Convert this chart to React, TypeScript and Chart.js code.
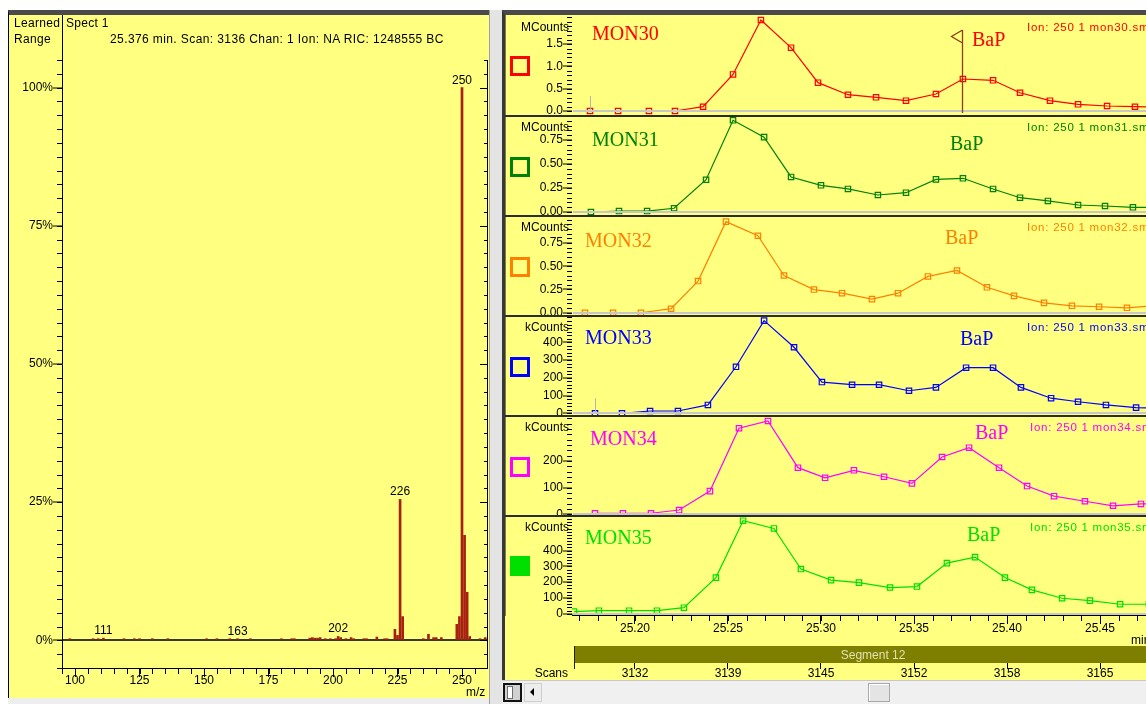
import React, { useEffect, useRef } from 'react';
import { Chart, registerables } from 'chart.js';

Chart.register(...registerables);

const SANS = "'Liberation Sans', Arial, Helvetica, sans-serif";
const SERIF = "'Liberation Serif', 'Times New Roman', serif";
Chart.defaults.font.family = SANS;
Chart.defaults.font.size = 12;
Chart.defaults.color = '#000';

// ---------------- Mass spectrum (left) ----------------
const specMz = [98, 107, 109, 111, 119, 123, 125, 130, 136, 151, 155, 160, 163, 168, 180, 184, 185, 191, 192, 193, 194, 195, 197, 199, 201, 202, 203, 205, 207, 208, 212, 213, 217, 220, 221, 224, 225, 226, 227, 235, 237, 239, 240, 242, 248, 249, 250, 251, 252, 253, 257, 259];
const specPct = [0.3, 0.3, 0.3, 0.4, 0.3, 0.3, 0.3, 0.3, 0.3, 0.3, 0.3, 0.3, 0.3, 0.3, 0.3, 0.3, 0.3, 0.4, 0.5, 0.4, 0.4, 0.5, 0.3, 0.3, 0.3, 0.7, 0.5, 0.3, 0.5, 0.3, 0.3, 0.3, 0.6, 0.3, 0.3, 2.0, 0.9, 25.5, 4.3, 0.3, 1.1, 0.5, 0.5, 0.5, 2.9, 4.3, 100, 19.0, 8.7, 0.7, 0.3, 0.5];
const specLabeled = [111, 163, 202, 226, 250];
const specXTicks = [100, 125, 150, 175, 200, 225, 250];
const specYTicks = [0, 25, 50, 75, 100];

// ---------------- Chromatograms (right) ----------------
const timeTicks = [25.2, 25.25, 25.3, 25.35, 25.4, 25.45];
const scanLabels = ['3132', '3139', '3145', '3152', '3158', '3165'];
const spectrumTime = 25.376;
const segmentLabel = 'Segment 12';
const segmentLabelTime = 25.328;

const mon30Time = [25.1758, 25.1909, 25.2075, 25.2215, 25.2366, 25.2527, 25.2677, 25.2839, 25.2984, 25.3145, 25.3296, 25.3457, 25.3618, 25.3763, 25.3925, 25.407, 25.4231, 25.4382, 25.4538, 25.4688, 25.4844];
const mon30Val = [0, 0, 0, 0, 0.096, 0.82, 2.04, 1.42, 0.635, 0.365, 0.307, 0.231, 0.381, 0.717, 0.688, 0.41, 0.231, 0.15, 0.112, 0.096, 0.09];

const mon31Time = [25.1763, 25.1914, 25.2065, 25.221, 25.2382, 25.2527, 25.2694, 25.2839, 25.3, 25.3145, 25.3306, 25.3457, 25.3618, 25.3763, 25.3925, 25.407, 25.422, 25.4382, 25.4527, 25.4677, 25.4833];
const mon31Val = [0, 0.01, 0.01, 0.039, 0.336, 0.955, 0.78, 0.365, 0.278, 0.24, 0.177, 0.201, 0.34, 0.351, 0.24, 0.149, 0.115, 0.073, 0.0625, 0.049, 0.047];

const mon32Time = [25.1731, 25.1882, 25.2032, 25.2194, 25.2339, 25.2489, 25.2661, 25.2801, 25.2962, 25.3113, 25.3274, 25.3414, 25.3575, 25.3731, 25.3892, 25.4038, 25.4199, 25.4349, 25.4495, 25.4645, 25.4801];
const mon32Val = [0, 0, 0, 0.043, 0.34, 0.979, 0.827, 0.4, 0.249, 0.21, 0.146, 0.21, 0.39, 0.454, 0.273, 0.181, 0.106, 0.074, 0.064, 0.053, 0.075];

const mon33Time = [25.1785, 25.193, 25.2081, 25.2231, 25.2392, 25.2543, 25.2694, 25.2855, 25.3005, 25.3167, 25.3312, 25.3473, 25.3618, 25.378, 25.3925, 25.4075, 25.4237, 25.4382, 25.4532, 25.4694, 25.4849];
const mon33Val = [0, 0, 13, 13, 47, 262, 522, 372, 176, 161, 161, 127, 146, 257, 257, 146, 85, 65, 47, 32, 28];

const mon34Time = [25.1785, 25.1935, 25.2086, 25.2237, 25.2403, 25.2559, 25.2715, 25.2876, 25.3022, 25.3177, 25.3339, 25.3489, 25.3651, 25.3796, 25.3957, 25.4108, 25.4253, 25.4419, 25.457, 25.472, 25.4876];
const mon34Val = [4, 4, 4, 16, 87, 323, 350, 175, 137, 165, 141, 116, 215, 250, 175, 106, 68, 49, 32, 39, 41];

const mon35Time = [25.1672, 25.1806, 25.1968, 25.2118, 25.2263, 25.2435, 25.2581, 25.2747, 25.2892, 25.3054, 25.3204, 25.3371, 25.3516, 25.3677, 25.3828, 25.3989, 25.4134, 25.4296, 25.4446, 25.4608, 25.4763];
const mon35Val = [13, 19, 19, 19, 38, 229, 590, 541, 283, 213, 197, 166, 172, 321, 359, 229, 151, 98, 83, 60, 60];

const mon30Ticks = [0, 0.5, 1.0, 1.5];
const mon31Ticks = [0, 0.25, 0.5, 0.75];
const mon32Ticks = [0, 0.25, 0.5, 0.75];
const mon33Ticks = [0, 100, 200, 300, 400];
const mon34Ticks = [0, 100, 200];
const mon35Ticks = [0, 100, 200, 300, 400];

// ---------------- layout / style config ----------------
const T_MIN = 25.16613;
const T_MAX = 25.47473;
const YELLOW = '#FFFF80';

const panels: any[] = [
  { name: 'MON30', time: mon30Time, val: mon30Val, color: '#FF0000', unit: 'MCounts', min: -0.0897, max: 2.1525, yTicks: mon30Ticks, dec: 1, minor: 0.1, top: 15, bottom: 115, lab: [592, 33], bap: [972, 38.5], ion: [1027, 26.7], unitY: 26.7, sq: 56, flag: true, start: true },
  { name: 'MON31', time: mon31Time, val: mon31Val, color: '#008000', unit: 'MCounts', min: -0.03125, max: 0.9896, yTicks: mon31Ticks, dec: 2, minor: 0.05, top: 117, bottom: 215, lab: [592, 138.5], bap: [950, 143], ion: [1027, 127.3], unitY: 126.7, sq: 157 },
  { name: 'MON32', time: mon32Time, val: mon32Val, color: '#FF8000', unit: 'MCounts', min: -0.0245, max: 1.0287, yTicks: mon32Ticks, dec: 2, minor: 0.05, top: 217, bottom: 315, lab: [585, 239.5], bap: [945, 237], ion: [1027, 227.3], unitY: 226.7, sq: 257 },
  { name: 'MON33', time: mon33Time, val: mon33Val, color: '#0000FF', unit: 'kCounts', min: -9.6, max: 542.5, yTicks: mon33Ticks, dec: 0, minor: 20, top: 317, bottom: 415, lab: [585, 337], bap: [960, 338], ion: [1027, 327.3], unitY: 327.3, sq: 357, start: true },
  { name: 'MON34', time: mon34Time, val: mon34Val, color: '#FF00FF', unit: 'kCounts', min: -2.6, max: 365.1, yTicks: mon34Ticks, dec: 0, minor: 20, top: 417, bottom: 515, lab: [590, 438], bap: [975, 432], ion: [1030, 426.7], unitY: 427.3, sq: 457 },
  { name: 'MON35', time: mon35Time, val: mon35Val, color: '#00E000', unit: 'kCounts', min: -8.3, max: 613.4, yTicks: mon35Ticks, dec: 0, minor: 20, top: 517, bottom: 680, lab: [585, 537], bap: [967, 534], ion: [1030, 527.3], unitY: 527.3, sq: 556, axis: true, filled: true },
];

// ---------------- plugins ----------------
function tickMarks(id: string, scaleId: string, edge: string, step: number, len: number, majorStep = 0, majorLen = 0, line = false) {
  return {
    id,
    afterDraw(chart: any) {
      const s = chart.scales[scaleId];
      const a = chart.chartArea;
      const ctx = chart.ctx;
      ctx.save();
      ctx.strokeStyle = '#000';
      ctx.lineWidth = 1;
      ctx.beginPath();
      if (line && edge === 'right') {
        ctx.moveTo(a.right + 0.5, a.top);
        ctx.lineTo(a.right + 0.5, a.bottom);
      }
      const i0 = Math.ceil(s.min / step - 1e-6);
      const i1 = Math.floor(s.max / step + 1e-6);
      for (let i = i0; i <= i1; i++) {
        const v = i * step;
        const isMajor = majorStep > 0 && Math.abs(v / majorStep - Math.round(v / majorStep)) < 1e-6;
        const L = isMajor ? majorLen : len;
        const p = Math.round(s.getPixelForValue(v)) + 0.5;
        if (edge === 'left') {
          ctx.moveTo(a.left, p);
          ctx.lineTo(a.left - L, p);
        } else if (edge === 'right') {
          ctx.moveTo(a.right, p);
          ctx.lineTo(a.right - L, p);
        } else {
          ctx.moveTo(p, a.bottom + 1);
          ctx.lineTo(p, a.bottom + 1 + L);
        }
      }
      ctx.stroke();
      ctx.restore();
    },
  };
}

const peakLabels = {
  id: 'peakLabels',
  afterDatasetsDraw(chart: any) {
    const xs = chart.scales.x;
    const ys = chart.scales.y;
    const ctx = chart.ctx;
    ctx.save();
    ctx.font = `12px ${SANS}`;
    ctx.fillStyle = '#000';
    ctx.textAlign = 'center';
    ctx.textBaseline = 'alphabetic';
    specLabeled.forEach((m) => {
      const i = specMz.indexOf(m);
      ctx.fillText(String(m), xs.getPixelForValue(m), ys.getPixelForValue(specPct[i]) - 4);
    });
    ctx.restore();
  },
};

function SpectrumChart() {
  const ref = useRef<HTMLCanvasElement>(null);
  useEffect(() => {
    const chart = new Chart(ref.current as HTMLCanvasElement, {
      type: 'bar',
      data: {
        datasets: [
          {
            data: specMz.map((m, i) => ({ x: m, y: specPct[i] })),
            backgroundColor: '#A82010',
            borderWidth: 0,
            barThickness: 2,
          } as any,
        ],
      },
      options: {
        animation: false,
        responsive: false,
        devicePixelRatio: 1,
        events: [],
        layout: { autoPadding: false, padding: { top: 45, right: 2, left: 0, bottom: 0 } },
        plugins: { legend: { display: false }, tooltip: { enabled: false } },
        scales: {
          x: {
            type: 'linear',
            min: 94.96,
            max: 259.69,
            offset: false,
            afterBuildTicks: (s: any) => { s.ticks = specXTicks.map((v) => ({ value: v })); },
            afterFit: (s: any) => { s.height = 30; s.paddingLeft = 0; s.paddingRight = 0; },
            grid: { drawOnChartArea: false, offset: false, tickLength: 9, tickColor: '#000' },
            border: { color: '#000', width: 1 },
            ticks: { padding: -4, maxRotation: 0, autoSkip: false, color: '#000', callback: (v: any) => String(v) },
          },
          y: {
            type: 'linear',
            min: -5,
            max: 105,
            afterBuildTicks: (s: any) => { s.ticks = specYTicks.map((v) => ({ value: v })); },
            afterFit: (s: any) => { s.width = 53; s.paddingTop = 0; s.paddingBottom = 0; },
            grid: {
              drawOnChartArea: true,
              lineWidth: 2,
              tickWidth: 1,
              tickLength: 9,
              tickColor: '#000',
              color: (c: any) => (c.tick && c.tick.value === 0 ? '#383838' : 'rgba(0,0,0,0)'),
            },
            border: { color: '#000', width: 1 },
            ticks: { padding: 0, color: '#000', callback: (v: any) => v + '%' },
          },
        } as any,
      },
      plugins: [
        tickMarks('specYMinor', 'y', 'left', 2.5, 5),
        tickMarks('specXMinor', 'x', 'bottom', 5, 5),
        tickMarks('specRight', 'y', 'right', 2.5, 3, 25, 7, true),
        peakLabels,
      ],
    } as any);
    return () => chart.destroy();
  }, []);
  return <canvas ref={ref} width={480} height={683} style={{ position: 'absolute', left: 9, top: 15 }} />;
}

function PanelChart({ p }: { p: any }) {
  const ref = useRef<HTMLCanvasElement>(null);
  useEffect(() => {
    const scales: any = {
      x: {
        type: 'linear',
        min: T_MIN,
        max: T_MAX,
        display: !!p.axis,
        afterBuildTicks: (s: any) => { s.ticks = timeTicks.map((v) => ({ value: v })); },
        afterFit: (s: any) => {
          s.height = p.axis ? 48 : 0;
          s.paddingLeft = 0;
          s.paddingRight = 0;
        },
        grid: { drawOnChartArea: false, tickLength: 9, tickColor: '#000', color: '#000' },
        border: { color: '#000', width: 1 },
        ticks: { padding: -3, maxRotation: 0, autoSkip: false, color: '#000', callback: (v: any) => Number(v).toFixed(2) },
      },
      y: {
        type: 'linear',
        min: p.min,
        max: p.max,
        afterBuildTicks: (s: any) => { s.ticks = p.yTicks.map((v: number) => ({ value: v })); },
        afterFit: (s: any) => { s.width = 67; s.paddingTop = 0; s.paddingBottom = 0; },
        grid: {
          z: 1,
          drawOnChartArea: true,
          lineWidth: 2,
          tickWidth: 1,
          tickLength: 9,
          tickColor: '#000',
          color: (c: any) => (c.tick && c.tick.value === 0 ? '#C8C8C8' : 'rgba(0,0,0,0)'),
        },
        border: { color: '#000', width: 1 },
        ticks: { padding: 0, color: '#000', callback: (v: any) => Number(v).toFixed(p.dec) },
      },
    };
    const plugins: any[] = [tickMarks('yMinor' + p.name, 'y', 'left', p.minor, 5)];
    if (p.axis) {
      scales.scans = {
        type: 'linear',
        position: 'bottom',
        weight: 1,
        min: T_MIN,
        max: T_MAX,
        afterBuildTicks: (s: any) => { s.ticks = timeTicks.map((v) => ({ value: v })); },
        afterFit: (s: any) => { s.height = 17; s.paddingLeft = 0; s.paddingRight = 0; },
        grid: { drawOnChartArea: false, tickLength: 6, tickColor: '#000', color: '#000' },
        border: { display: false },
        ticks: { padding: -3, maxRotation: 0, autoSkip: false, color: '#000', callback: (_v: any, i: number) => scanLabels[i] },
      };
      plugins.push(tickMarks('xMinor' + p.name, 'x', 'bottom', 0.01, 5));
      plugins.push({
        id: 'segment',
        afterDraw(chart: any) {
          const xs = chart.scales.x;
          const sc = chart.scales.scans;
          const ctx = chart.ctx;
          const y1 = sc.top;
          const y0 = y1 - 17;
          const x0 = xs.left + 2;
          const x1 = xs.right;
          ctx.save();
          ctx.fillStyle = '#7E7E00';
          ctx.fillRect(x0, y0, x1 - x0, y1 - y0);
          ctx.fillStyle = '#202000';
          ctx.fillRect(x0, y0, 1, y1 - y0 + 6);
          ctx.font = `12px ${SANS}`;
          ctx.fillStyle = '#E2E2AE';
          ctx.textAlign = 'center';
          ctx.textBaseline = 'middle';
          ctx.fillText(segmentLabel, xs.getPixelForValue(segmentLabelTime), (y0 + y1) / 2 + 1);
          ctx.restore();
        },
      });
    }
    if (p.start) {
      plugins.push({
        id: 'startMark',
        afterDatasetsDraw(chart: any) {
          const ctx = chart.ctx;
          const x = Math.round(chart.scales.x.getPixelForValue(p.time[0])) + 0.5;
          const y0 = chart.scales.y.getPixelForValue(0);
          ctx.save();
          ctx.strokeStyle = '#B4B4B4';
          ctx.lineWidth = 1;
          ctx.beginPath();
          ctx.moveTo(x, y0);
          ctx.lineTo(x, y0 - 15);
          ctx.stroke();
          ctx.restore();
        },
      });
    }
    if (p.flag) {
      plugins.push({
        id: 'flag',
        afterDraw(chart: any) {
          const ctx = chart.ctx;
          const a = chart.chartArea;
          const x = Math.round(chart.scales.x.getPixelForValue(spectrumTime)) + 0.5;
          ctx.save();
          ctx.strokeStyle = '#8E3C1A';
          ctx.lineWidth = 1.3;
          ctx.beginPath();
          ctx.moveTo(x, a.top + 15);
          ctx.lineTo(x, a.bottom - 2);
          ctx.moveTo(x, a.top + 15);
          ctx.lineTo(x - 11, a.top + 21.5);
          ctx.lineTo(x, a.top + 28);
          ctx.stroke();
          ctx.restore();
        },
      });
    }
    const chart = new Chart(ref.current as HTMLCanvasElement, {
      type: 'line',
      data: {
        datasets: [
          {
            data: p.time.map((t: number, i: number) => ({ x: t, y: p.val[i] })),
            borderColor: p.color,
            borderWidth: 1.2,
            pointStyle: 'rect',
            pointRadius: 3.8,
            pointBorderColor: p.color,
            pointBackgroundColor: 'rgba(0,0,0,0)',
            pointBorderWidth: 1.2,
            tension: 0,
            fill: false,
          },
        ],
      },
      options: {
        animation: false,
        responsive: false,
        devicePixelRatio: 1,
        events: [],
        layout: { autoPadding: false, padding: 0 },
        plugins: { legend: { display: false }, tooltip: { enabled: false } },
        scales,
      },
      plugins,
    } as any);
    return () => chart.destroy();
  }, []);
  return (
    <canvas
      ref={ref}
      width={641}
      height={p.bottom - p.top}
      style={{ position: 'absolute', left: 505, top: p.top }}
    />
  );
}

function Txt({ x, cy, children, style }: any) {
  return (
    <div
      style={{
        position: 'absolute',
        left: x,
        top: cy - 7,
        font: `12px ${SANS}`,
        lineHeight: '14px',
        whiteSpace: 'nowrap',
        color: '#000',
        ...style,
      }}
    >
      {children}
    </div>
  );
}

export default function App() {
  const sepTops = [115, 215, 315, 415, 515];
  return (
    <div
      style={{
        position: 'fixed',
        left: 0,
        top: 0,
        width: 1146,
        height: 704,
        overflow: 'hidden',
        background: '#FFFFFF',
        fontFamily: SANS,
      }}
    >
      {/* left window */}
      <div style={{ position: 'absolute', left: 8, top: 10, width: 481, height: 688, boxSizing: 'border-box', background: YELLOW, borderTop: '5px solid #4A4A4A', borderLeft: '1px solid #000' }} />
      <div style={{ position: 'absolute', left: 8, top: 698, width: 482, height: 6, background: '#EEEEEE' }} />
      {/* splitter */}
      <div style={{ position: 'absolute', left: 489, top: 10, width: 13, height: 694, boxSizing: 'border-box', background: '#E4E4E4', borderLeft: '1px solid #A0A0A0' }} />
      {/* right window */}
      <div style={{ position: 'absolute', left: 502, top: 10, width: 644, height: 670, boxSizing: 'border-box', background: YELLOW, borderTop: '5px solid #4A4A4A', borderLeft: '3px solid #383838' }} />

      <SpectrumChart />
      <div style={{ position: 'absolute', left: 62, top: 15, width: 1, height: 46, background: '#000' }} />
      <Txt x={14} cy={23} style={{ letterSpacing: '0.3px' }}>Learned</Txt>
      <Txt x={14} cy={39} style={{ letterSpacing: '0.3px' }}>Range</Txt>
      <Txt x={66} cy={23} style={{ letterSpacing: '0.3px' }}>Spect 1</Txt>
      <Txt x={110} cy={39} style={{ letterSpacing: '0.4px' }}>25.376 min. Scan: 3136 Chan: 1 Ion: NA RIC: 1248555 BC</Txt>
      <Txt x={466} cy={692}>m/z</Txt>

      {panels.map((p) => (
        <PanelChart key={p.name} p={p} />
      ))}
      {sepTops.map((y) => (
        <div key={y} style={{ position: 'absolute', left: 505, top: y, width: 641, height: 2, background: '#2C2C2C' }} />
      ))}

      {panels.map((p) => (
        <React.Fragment key={'t' + p.name}>
          <div
            style={{
              position: 'absolute',
              left: 510,
              top: p.sq,
              width: 20,
              height: 20,
              boxSizing: 'border-box',
              border: `3.5px solid ${p.color}`,
              background: p.filled ? p.color : 'transparent',
            }}
          />
          <Txt x={0} cy={p.unitY} style={{ left: 'auto', right: 1146 - 569, textAlign: 'right' }}>{p.unit}</Txt>
          <div style={{ position: 'absolute', left: p.lab[0], top: p.lab[1] - 10, font: `20px ${SERIF}`, lineHeight: '20px', color: p.color, whiteSpace: 'nowrap' }}>{p.name}</div>
          <div style={{ position: 'absolute', left: p.bap[0], top: p.bap[1] - 10, font: `20px ${SERIF}`, lineHeight: '20px', color: p.color, whiteSpace: 'nowrap' }}>BaP</div>
          <Txt x={p.ion[0]} cy={p.ion[1]} style={{ color: p.color, fontSize: '11.5px', letterSpacing: '0.75px' }}>{'Ion: 250 1 ' + p.name.toLowerCase() + '.sms'}</Txt>
        </React.Fragment>
      ))}
      <Txt x={0} cy={673} style={{ left: 'auto', right: 1146 - 568, textAlign: 'right' }}>Scans</Txt>
      <Txt x={1131} cy={640}>min</Txt>

      {/* scrollbar */}
      <div style={{ position: 'absolute', left: 502, top: 680, width: 644, height: 24, boxSizing: 'border-box', background: '#F0F0F0', borderTop: '1px solid #C8C8C8' }} />
      <div style={{ position: 'absolute', left: 503, top: 683, width: 19, height: 19, boxSizing: 'border-box', border: '2px solid #111', background: '#D0D0D0' }}>
        <div style={{ position: 'absolute', left: 2, top: 1, width: 6, height: 13, boxSizing: 'border-box', background: '#FFFFFF', border: '1px solid #707070' }} />
      </div>
      <div style={{ position: 'absolute', left: 524, top: 683, width: 18, height: 19, boxSizing: 'border-box', background: '#EDEDED', border: '1px solid #CFCFCF' }}>
        <div style={{ position: 'absolute', left: 5, top: 4, width: 0, height: 0, borderTop: '4px solid transparent', borderBottom: '4px solid transparent', borderRight: '4px solid #000' }} />
      </div>
      <div style={{ position: 'absolute', left: 868, top: 683, width: 22, height: 19, boxSizing: 'border-box', background: '#E4E4E4', border: '1px solid #A8A8A8', boxShadow: 'inset 1px 1px 0 #FFFFFF' }} />
    </div>
  );
}
